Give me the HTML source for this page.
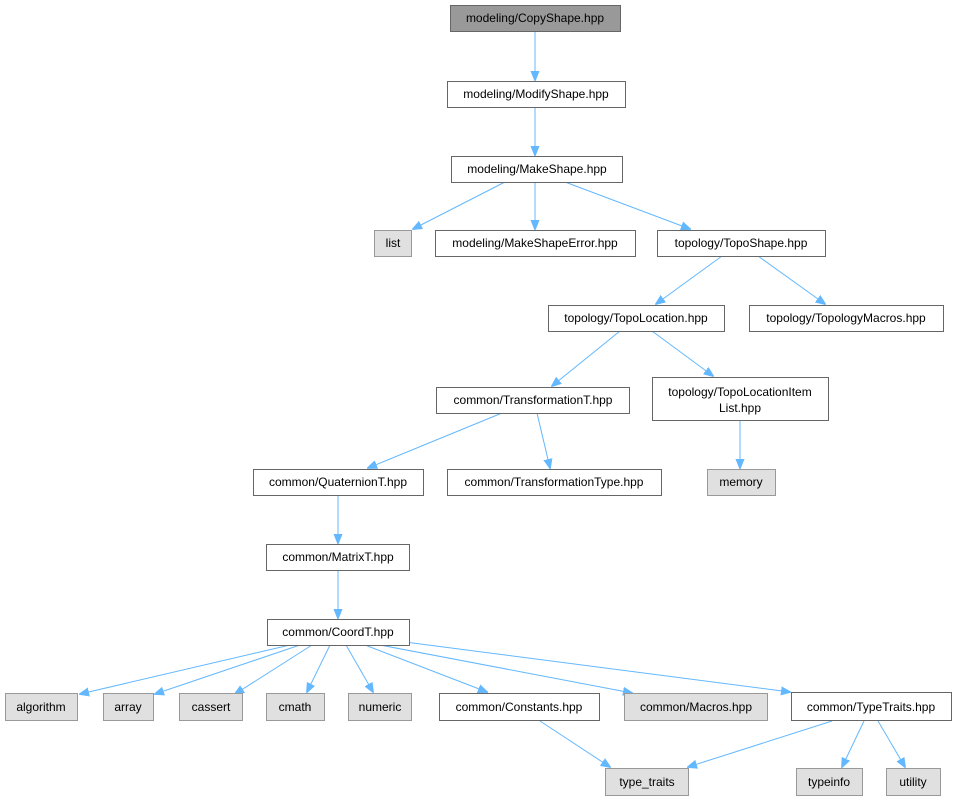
<!DOCTYPE html>
<html><head><meta charset="utf-8"><style>
body{margin:0;background:#fff;}
text{font-family:"Liberation Sans",sans-serif;font-size:12px;fill:#000;text-anchor:middle;}
</style></head><body>
<svg width="957" height="800" xmlns="http://www.w3.org/2000/svg">
<defs><marker id="a" markerWidth="10" markerHeight="10" refX="9" refY="5" orient="auto" markerUnits="userSpaceOnUse"><path d="M0,1 L10,5 L0,9 Z" fill="#63b8ff" stroke="#63b8ff"/></marker></defs>
<g stroke="#63b8ff" stroke-width="1" fill="none" marker-end="url(#a)">
<line x1="535" y1="31" x2="535" y2="80"/>
<line x1="535" y1="107" x2="535" y2="155"/>
<line x1="505" y1="182" x2="413" y2="229"/>
<line x1="535" y1="182" x2="535" y2="229"/>
<line x1="565" y1="182" x2="690" y2="229"/>
<line x1="722" y1="256" x2="656" y2="304"/>
<line x1="758" y1="256" x2="825" y2="304"/>
<line x1="620" y1="331" x2="552" y2="386"/>
<line x1="652" y1="331" x2="713" y2="376"/>
<line x1="502" y1="413" x2="368" y2="468"/>
<line x1="537" y1="413" x2="550" y2="468"/>
<line x1="740" y1="421" x2="740" y2="468"/>
<line x1="338" y1="495" x2="338" y2="543"/>
<line x1="338" y1="570" x2="338" y2="618"/>
<line x1="290" y1="645" x2="80" y2="694"/>
<line x1="300" y1="645" x2="155" y2="694"/>
<line x1="312" y1="645" x2="235" y2="694"/>
<line x1="330" y1="645" x2="307" y2="692"/>
<line x1="346" y1="645" x2="373" y2="692"/>
<line x1="365" y1="645" x2="487" y2="692"/>
<line x1="380" y1="645" x2="632" y2="693"/>
<line x1="405" y1="642" x2="790" y2="692"/>
<line x1="540" y1="721" x2="610" y2="767"/>
<line x1="832" y1="721" x2="688" y2="767"/>
<line x1="864" y1="721" x2="842" y2="767"/>
<line x1="878" y1="721" x2="905" y2="767"/>
</g>
<g stroke-width="1">
<rect x="450.5" y="5.5" width="170" height="26" fill="#999" stroke="#666"/><text x="535" y="22">modeling/CopyShape.hpp</text>
<rect x="447.5" y="81.5" width="178" height="26" fill="#fff" stroke="#666"/><text x="536" y="98">modeling/ModifyShape.hpp</text>
<rect x="451.5" y="156.5" width="171" height="26" fill="#fff" stroke="#666"/><text x="537" y="173">modeling/MakeShape.hpp</text>
<rect x="374.5" y="230.5" width="37" height="26" fill="#e0e0e0" stroke="#999"/><text x="393" y="247">list</text>
<rect x="435.5" y="230.5" width="200" height="26" fill="#fff" stroke="#666"/><text x="535" y="247">modeling/MakeShapeError.hpp</text>
<rect x="657.5" y="230.5" width="168" height="26" fill="#fff" stroke="#666"/><text x="741" y="247">topology/TopoShape.hpp</text>
<rect x="548.5" y="305.5" width="176" height="26" fill="#fff" stroke="#666"/><text x="636" y="322">topology/TopoLocation.hpp</text>
<rect x="749.5" y="305.5" width="194" height="26" fill="#fff" stroke="#666"/><text x="846" y="322">topology/TopologyMacros.hpp</text>
<rect x="436.5" y="387.5" width="193" height="26" fill="#fff" stroke="#666"/><text x="533" y="404">common/TransformationT.hpp</text>
<rect x="652.5" y="377.5" width="176" height="43" fill="#fff" stroke="#666"/><text x="740" y="396">topology/TopoLocationItem</text><text x="740" y="412">List.hpp</text>
<rect x="253.5" y="469.5" width="170" height="26" fill="#fff" stroke="#666"/><text x="338" y="486">common/QuaternionT.hpp</text>
<rect x="447.5" y="469.5" width="214" height="26" fill="#fff" stroke="#666"/><text x="554" y="486">common/TransformationType.hpp</text>
<rect x="707.5" y="469.5" width="68" height="26" fill="#e0e0e0" stroke="#999"/><text x="741" y="486">memory</text>
<rect x="266.5" y="544.5" width="143" height="26" fill="#fff" stroke="#666"/><text x="338" y="561">common/MatrixT.hpp</text>
<rect x="267.5" y="619.5" width="142" height="26" fill="#fff" stroke="#666"/><text x="338" y="636">common/CoordT.hpp</text>
<rect x="5.5" y="693.5" width="72" height="27" fill="#e0e0e0" stroke="#999"/><text x="41" y="711">algorithm</text>
<rect x="103.5" y="693.5" width="50" height="27" fill="#e0e0e0" stroke="#999"/><text x="128" y="711">array</text>
<rect x="179.5" y="693.5" width="63" height="27" fill="#e0e0e0" stroke="#999"/><text x="211" y="711">cassert</text>
<rect x="266.5" y="693.5" width="58" height="27" fill="#e0e0e0" stroke="#999"/><text x="295" y="711">cmath</text>
<rect x="348.5" y="693.5" width="63" height="27" fill="#e0e0e0" stroke="#999"/><text x="380" y="711">numeric</text>
<rect x="439.5" y="693.5" width="160" height="27" fill="#fff" stroke="#666"/><text x="519" y="711">common/Constants.hpp</text>
<rect x="624.5" y="693.5" width="143" height="27" fill="#e0e0e0" stroke="#999"/><text x="696" y="711">common/Macros.hpp</text>
<rect x="791.5" y="692.5" width="160" height="28" fill="#fff" stroke="#666"/><text x="871" y="711">common/TypeTraits.hpp</text>
<rect x="605.5" y="768.5" width="83" height="27" fill="#e0e0e0" stroke="#999"/><text x="647" y="786">type_traits</text>
<rect x="796.5" y="768.5" width="66" height="27" fill="#e0e0e0" stroke="#999"/><text x="829" y="786">typeinfo</text>
<rect x="886.5" y="768.5" width="54" height="27" fill="#e0e0e0" stroke="#999"/><text x="913" y="786">utility</text>
</g>
</svg>
</body></html>
